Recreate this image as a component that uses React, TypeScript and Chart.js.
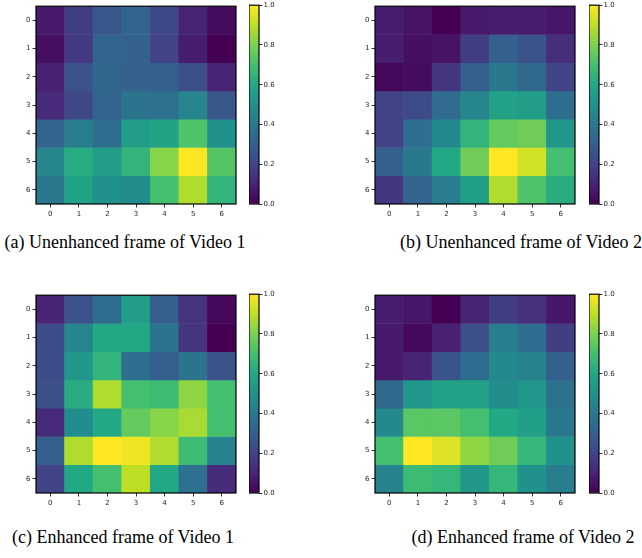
import React, { useEffect, useRef } from 'react';
import { Chart, registerables } from 'chart.js';

Chart.register(...registerables);

// ---------- data ----------
const COL_LABELS = ['0', '1', '2', '3', '4', '5', '6'];
const ROW_INDEX = [0, 1, 2, 3, 4, 5, 6];
const COLORBAR_TICKS = [0, 0.2, 0.4, 0.6, 0.8, 1.0];

const VIDEO1_UNENHANCED = [
  [0.07, 0.18, 0.27, 0.32, 0.22, 0.10, 0.03],
  [0.04, 0.17, 0.32, 0.31, 0.20, 0.08, 0.00],
  [0.09, 0.25, 0.33, 0.31, 0.31, 0.24, 0.10],
  [0.12, 0.22, 0.32, 0.38, 0.37, 0.45, 0.27],
  [0.32, 0.42, 0.36, 0.55, 0.58, 0.72, 0.50],
  [0.45, 0.62, 0.55, 0.65, 0.82, 1.00, 0.73],
  [0.40, 0.58, 0.50, 0.48, 0.70, 0.88, 0.65],
];

const VIDEO2_UNENHANCED = [
  [0.08, 0.05, 0.00, 0.07, 0.08, 0.08, 0.06],
  [0.08, 0.04, 0.05, 0.18, 0.30, 0.26, 0.13],
  [0.02, 0.03, 0.16, 0.30, 0.40, 0.34, 0.20],
  [0.20, 0.23, 0.35, 0.45, 0.57, 0.55, 0.36],
  [0.20, 0.36, 0.47, 0.65, 0.76, 0.78, 0.52],
  [0.30, 0.40, 0.60, 0.78, 1.00, 0.93, 0.70],
  [0.16, 0.32, 0.42, 0.56, 0.88, 0.72, 0.62],
];

const VIDEO1_ENHANCED = [
  [0.10, 0.25, 0.35, 0.55, 0.30, 0.15, 0.02],
  [0.23, 0.45, 0.60, 0.60, 0.38, 0.15, 0.00],
  [0.23, 0.53, 0.65, 0.36, 0.30, 0.38, 0.25],
  [0.24, 0.62, 0.88, 0.70, 0.68, 0.83, 0.70],
  [0.12, 0.48, 0.60, 0.76, 0.82, 0.87, 0.70],
  [0.30, 0.88, 1.00, 0.98, 0.88, 0.68, 0.44],
  [0.20, 0.60, 0.70, 0.90, 0.60, 0.37, 0.12],
];

const VIDEO2_ENHANCED = [
  [0.08, 0.06, 0.00, 0.10, 0.18, 0.14, 0.06],
  [0.07, 0.02, 0.09, 0.24, 0.42, 0.36, 0.18],
  [0.07, 0.10, 0.26, 0.36, 0.47, 0.44, 0.30],
  [0.34, 0.52, 0.57, 0.57, 0.48, 0.52, 0.37],
  [0.47, 0.74, 0.74, 0.70, 0.60, 0.56, 0.40],
  [0.70, 1.00, 0.95, 0.83, 0.78, 0.66, 0.50],
  [0.44, 0.68, 0.66, 0.53, 0.66, 0.50, 0.42],
];

const CAPTIONS = [
  '(a) Unenhanced frame of Video 1',
  '(b) Unenhanced frame of Video 2',
  '(c) Enhanced frame of Video 1',
  '(d) Enhanced frame of Video 2',
];

// ---------- colormap ----------
const VIRIDIS = [
  '#440154', '#482475', '#414487', '#355f8d', '#2a788e', '#21918c',
  '#22a884', '#44bf70', '#7ad151', '#bddf26', '#fde725',
];

function hexToRgb(h: string) {
  return [parseInt(h.slice(1, 3), 16), parseInt(h.slice(3, 5), 16), parseInt(h.slice(5, 7), 16)];
}

function viridis(t: number) {
  const v = Math.max(0, Math.min(1, t)) * (VIRIDIS.length - 1);
  const i = Math.min(Math.floor(v), VIRIDIS.length - 2);
  const f = v - i;
  const a = hexToRgb(VIRIDIS[i]);
  const b = hexToRgb(VIRIDIS[i + 1]);
  const c = a.map((x, k) => Math.round(x + (b[k] - x) * f));
  return `rgb(${c[0]},${c[1]},${c[2]})`;
}

// ---------- shared styles ----------
const TICK_FONT = { family: 'DejaVu Sans', size: 7 };
const TICK_COLOR = '#262626';

const framePlugin = {
  id: 'frame',
  afterDatasetsDraw(chart: any) {
    const { ctx, chartArea } = chart;
    ctx.save();
    ctx.strokeStyle = '#000';
    ctx.lineWidth = 1.2;
    ctx.strokeRect(chartArea.left, chartArea.top, chartArea.right - chartArea.left, chartArea.bottom - chartArea.top);
    ctx.restore();
  },
};

const HEAT_W = 240;
const HEAT_H = 220;
const CB_W = 40;
const CB_H = 212;

function Heatmap({ values, left, top }: { values: number[][]; left: number; top: number }) {
  const ref = useRef<HTMLCanvasElement>(null);
  useEffect(() => {
    const chart = new Chart(ref.current as HTMLCanvasElement, {
      type: 'bar',
      data: {
        labels: COL_LABELS,
        datasets: ROW_INDEX.map((r) => ({
          data: values[r].map(() => [r - 0.5, r + 0.5]),
          backgroundColor: values[r].map(viridis),
          borderWidth: 0,
          barPercentage: 1,
          categoryPercentage: 1,
          grouped: false,
        })),
      } as any,
      options: {
        responsive: false,
        animation: false,
        devicePixelRatio: 1,
        layout: { padding: { top: 5, right: 4, left: 0, bottom: 0 } },
        plugins: { legend: { display: false }, tooltip: { enabled: false } },
        scales: {
          x: {
            type: 'category',
            offset: true,
            border: { display: false },
            grid: { drawOnChartArea: false, drawTicks: true, tickLength: 3.5, tickColor: '#000', tickWidth: 0.8, offset: false },
            ticks: { font: TICK_FONT, color: TICK_COLOR, padding: 2, maxRotation: 0, autoSkip: false },
            afterFit: (s: any) => { s.height = 16; },
          },
          y: {
            type: 'linear',
            min: -0.5,
            max: 6.5,
            reverse: true,
            border: { display: false },
            afterBuildTicks: (a: any) => { a.ticks = ROW_INDEX.map((v) => ({ value: v })); },
            grid: { drawOnChartArea: false, drawTicks: true, tickLength: 3.5, tickColor: '#000', tickWidth: 0.8 },
            ticks: { font: TICK_FONT, color: TICK_COLOR, padding: 2, callback: (v: any) => String(v) },
            afterFit: (s: any) => { s.width = 36; },
          },
        },
      } as any,
      plugins: [framePlugin],
    });
    return () => chart.destroy();
  }, [values]);
  return (
    <canvas
      ref={ref}
      width={HEAT_W}
      height={HEAT_H}
      style={{ position: 'absolute', left, top, width: HEAT_W, height: HEAT_H }}
    />
  );
}

function Colorbar({ left, top }: { left: number; top: number }) {
  const ref = useRef<HTMLCanvasElement>(null);
  useEffect(() => {
    const chart = new Chart(ref.current as HTMLCanvasElement, {
      type: 'bar',
      data: {
        labels: ['cb'],
        datasets: [
          {
            data: [[0, 1]],
            backgroundColor: (c: any) => {
              const area = c.chart.chartArea;
              if (!area) return VIRIDIS[5];
              const g = c.chart.ctx.createLinearGradient(0, area.bottom, 0, area.top);
              VIRIDIS.forEach((col, i) => g.addColorStop(i / (VIRIDIS.length - 1), col));
              return g;
            },
            borderWidth: 0,
            barPercentage: 1,
            categoryPercentage: 1,
          },
        ],
      } as any,
      options: {
        responsive: false,
        animation: false,
        devicePixelRatio: 1,
        layout: { padding: { top: 5, right: 0, left: 0, bottom: CB_H - 204 } },
        plugins: { legend: { display: false }, tooltip: { enabled: false } },
        scales: {
          x: { display: false },
          y: {
            type: 'linear',
            position: 'right',
            min: 0,
            max: 1,
            border: { display: false },
            afterBuildTicks: (a: any) => { a.ticks = COLORBAR_TICKS.map((v) => ({ value: v })); },
            grid: { drawOnChartArea: false, drawTicks: true, tickLength: 3.5, tickColor: '#000', tickWidth: 0.8 },
            ticks: { font: TICK_FONT, color: TICK_COLOR, padding: 1, callback: (v: any) => Number(v).toFixed(1) },
            afterFit: (s: any) => { s.width = 30; },
          },
        },
      } as any,
      plugins: [framePlugin],
    });
    return () => chart.destroy();
  }, []);
  return (
    <canvas
      ref={ref}
      width={CB_W}
      height={CB_H}
      style={{ position: 'absolute', left, top, width: CB_W, height: CB_H }}
    />
  );
}

const PANELS = [
  { values: VIDEO1_UNENHANCED, heatLeft: 0, cbLeft: 249, top: 0, capCenter: 125, capTop: 232 },
  { values: VIDEO2_UNENHANCED, heatLeft: 339, cbLeft: 589, top: 0, capCenter: 521, capTop: 232 },
  { values: VIDEO1_ENHANCED, heatLeft: 0, cbLeft: 249, top: 289, capCenter: 123, capTop: 527 },
  { values: VIDEO2_ENHANCED, heatLeft: 339, cbLeft: 589, top: 289, capCenter: 523, capTop: 527 },
];

export default function App() {
  return (
    <div style={{ position: 'absolute', left: 0, top: 0, width: 642, height: 558, background: '#fff', overflow: 'hidden' }}>
      {PANELS.map((p, i) => (
        <React.Fragment key={i}>
          <Heatmap values={p.values} left={p.heatLeft} top={p.top} />
          <Colorbar left={p.cbLeft} top={p.top} />
          <div
            style={{
              position: 'absolute',
              left: p.capCenter - 160,
              top: p.capTop,
              width: 320,
              textAlign: 'center',
              fontFamily: '"Liberation Serif", serif',
              fontSize: 18,
              lineHeight: '20px',
              color: '#000',
              whiteSpace: 'nowrap',
            }}
          >
            {CAPTIONS[i]}
          </div>
        </React.Fragment>
      ))}
    </div>
  );
}
